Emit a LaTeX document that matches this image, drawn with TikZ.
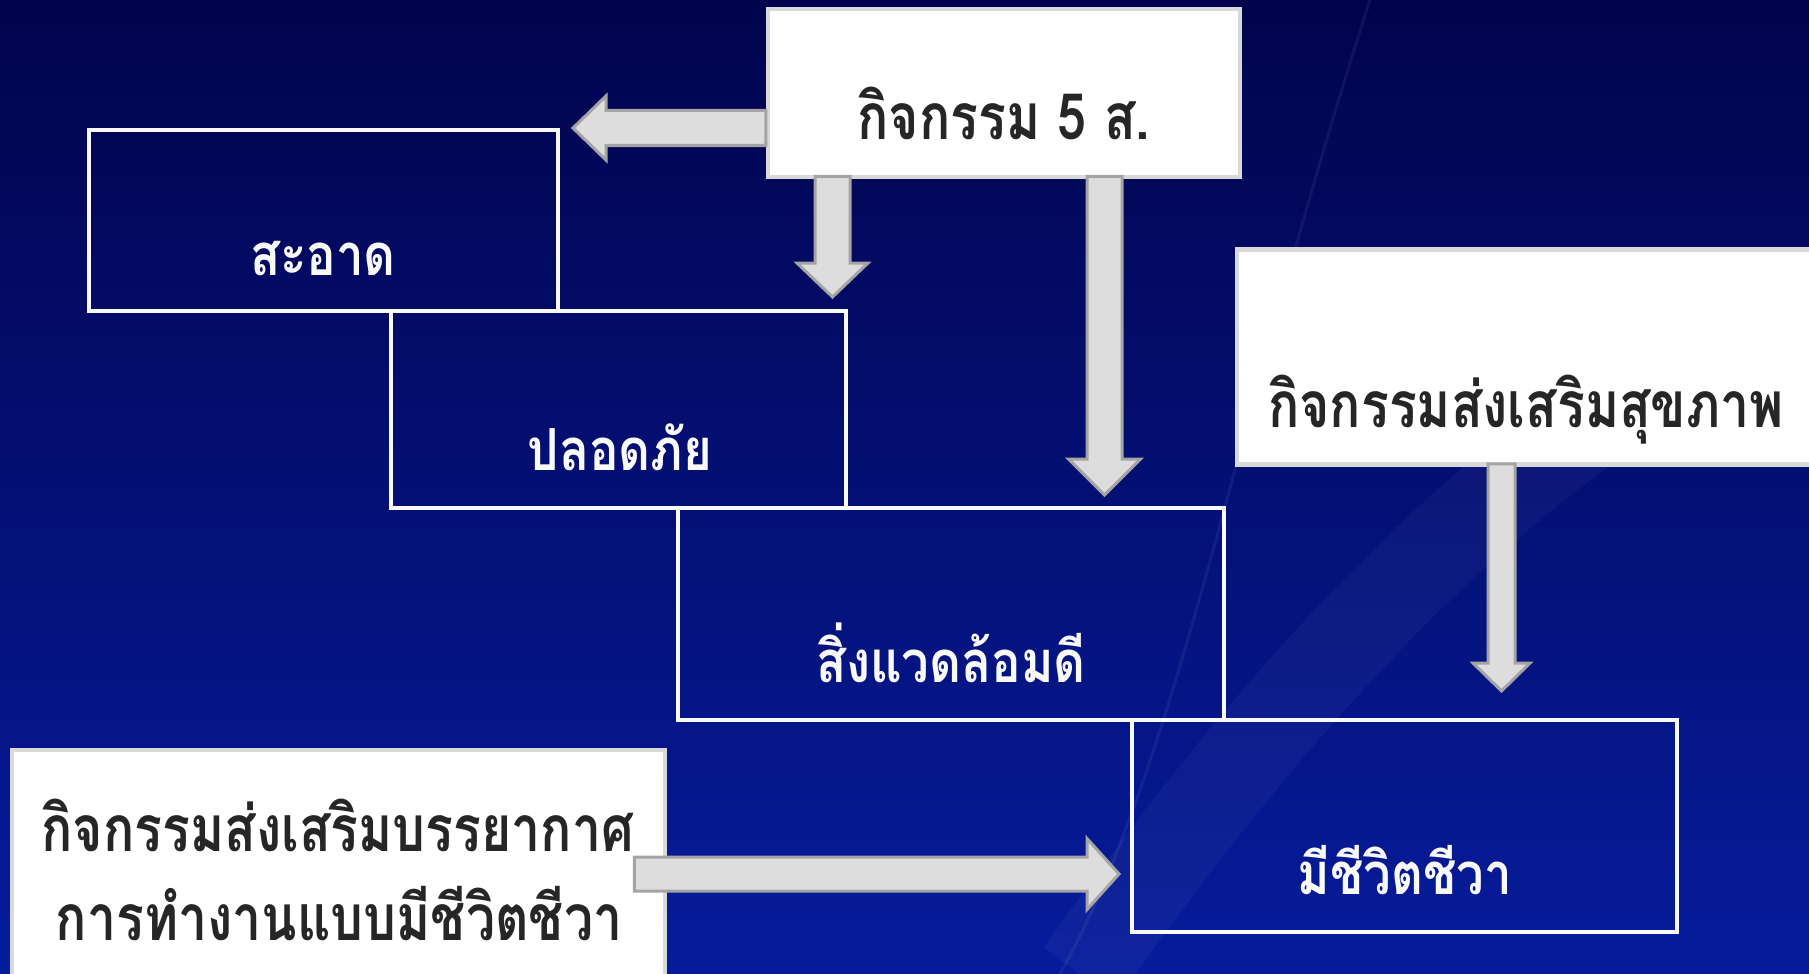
\documentclass[tikz,border=0pt]{standalone}
\usepackage{fontspec}
\newfontfamily\thaifont[Script=Thai,FakeStretch=0.85]{Loma}
\newfontfamily\thainarrow[Script=Thai,FakeStretch=0.81]{Loma}
\usetikzlibrary{calc}
\definecolor{NavyTop}{RGB}{2,3,76}
\definecolor{NavyBottom}{RGB}{6,28,156}
\definecolor{ArrowFill}{RGB}{221,221,221}
\definecolor{ArrowLine}{RGB}{164,164,164}
\definecolor{PaleEdge}{RGB}{217,217,217}
\definecolor{InkGray}{RGB}{38,38,38}

\begin{document}
\begin{tikzpicture}[x=0.5pt,y=-0.5pt,
  framebox/.style={draw=white!95!gray, line width=2pt, inner sep=0pt},
  paperbox/.style={draw=PaleEdge, fill=white, line width=2.25pt, inner sep=0pt},
  whitetext/.style={text=white!95!gray, font=\thaifont\bfseries\fontsize{29}{34}\selectfont, anchor=base, inner sep=0pt},
  inktext/.style={text=InkGray, font=\thainarrow\bfseries\fontsize{32}{38}\selectfont, anchor=base, inner sep=0pt},
  block/.style n args={3}{fill=ArrowFill, draw=ArrowLine, line width=1.5pt, line join=miter,
    to path={let \p1=($(\tikztotarget)!#3!(\tikztostart)$) in
      ($(\tikztostart)!#1!90:(\tikztotarget)$) -- ($(\p1)!#1!90:(\tikztotarget)$)
      -- ($(\p1)!#2!90:(\tikztotarget)$) -- (\tikztotarget)
      -- ($(\p1)!#2!-90:(\tikztotarget)$) -- ($(\p1)!#1!-90:(\tikztotarget)$)
      -- ($(\tikztostart)!#1!-90:(\tikztotarget)$) -- cycle}}]
\useasboundingbox (0,0) rectangle (1809,974);
\clip (0,0) rectangle (1809,974);

% background
\shade[top color=NavyTop, bottom color=NavyBottom] (0,0) rectangle (1809,974);
\draw[white, opacity=0.035, line width=45pt] (1080,974) .. controls (1260,720) and (1500,430) .. (1809,300);
\draw[white, opacity=0.06, line width=1.5pt] (1060,974) .. controls (1180,760) and (1240,400) .. (1370,0);
\draw[white, opacity=0.13, line width=3pt] (275,800) arc[start angle=180, end angle=0, radius=77];

% boxes
\node[paperbox, minimum width=236pt, minimum height=84pt] (five) at (1004,93) {};
\node[framebox, minimum width=234.5pt, minimum height=90.5pt] (clean) at (323.5,220.5) {};
\node[framebox, minimum width=227.5pt, minimum height=98.5pt] (safe) at (618.5,409.5) {};
\node[framebox, minimum width=273pt, minimum height=106pt] (env) at (951,614) {};
\node[framebox, minimum width=272.5pt, minimum height=106pt] (alive) at (1404.5,826) {};
\node[paperbox, minimum width=289pt, minimum height=107.5pt] (health) at (1526,357) {};
\node[paperbox, minimum width=326.5pt, minimum height=124pt] (atmos) at (338.5,874) {};

% texts
\node[inktext] (fivetxt) at (1004,140) {กิจกรรม 5 ส.};
\node[whitetext] (cleantxt) at (323,275) {สะอาด};
\node[whitetext] (safetxt) at (620,470) {ปลอดภัย};
\node[whitetext] (envtxt) at (951,682) {สิ่งแวดล้อมดี};
\node[whitetext] (alivetxt) at (1405,894) {มีชีวิตชีวา};
\node[inktext] (healthtxt) at (1526,427) {กิจกรรมส่งเสริมสุขภาพ};
\node[inktext] (atmostxt) at (338,851) {กิจกรรมส่งเสริมบรรยากาศ};
\node[inktext] (worktxt) at (339,940) {การทำงานแบบมีชีวิตชีวา};

% arrows
\coordinate (tipL) at ($(clean.north east)+(13,0)$);
\coordinate (tipS) at ($(safe.north east)+(-15.5,-12)$);
\coordinate (tipE) at ($(env.north east)+(-121.5,-11)$);
\coordinate (tipA) at ($(alive.north west)+(371.5,-27)$);
\coordinate (tipB) at ($(alive.south west)+(-11,-60)$);
\draw[block={8.75pt}{16pt}{16.5pt}] (five.west |- tipL) to (tipL);
\draw[block={8.75pt}{17.75pt}{17pt}] ($(five.south -| tipS)+(0,-3)$) to (tipS);
\draw[block={8.75pt}{18pt}{18pt}] ($(five.south -| tipE)+(0,-3)$) to (tipE);
\draw[block={6.75pt}{14.25pt}{14pt}] ($(health.south -| tipA)+(0,-3)$) to (tipA);
\draw[block={8.5pt}{17.75pt}{16pt}] ($(atmos.east |- tipB)+(-33,0)$) to (tipB);
\end{tikzpicture}
\end{document}
